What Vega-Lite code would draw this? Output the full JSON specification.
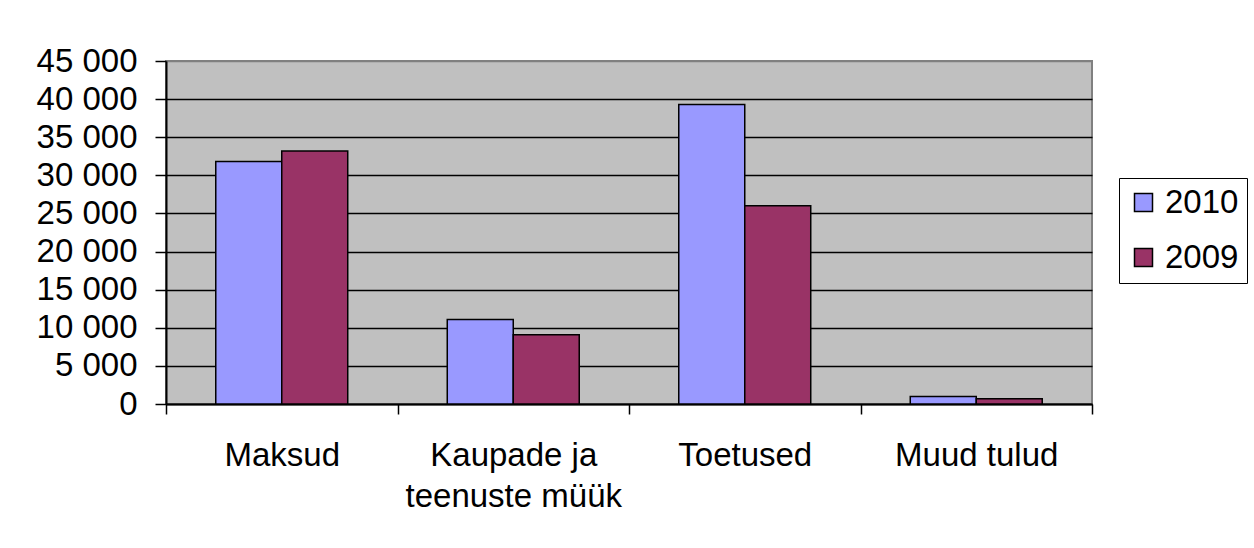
{
  "$schema": "https://vega.github.io/schema/vega-lite/v6.json",
  "autosize": {"type": "none"},
  "padding": {"left": 166, "top": 61, "right": 162, "bottom": 144},
  "width": 926,
  "height": 343,
  "background": "white",
  "data": {
    "values": [
      {"category": "Maksud", "year": "2010", "value": 31800},
      {"category": "Maksud", "year": "2009", "value": 33200},
      {"category": "Kaupade ja teenuste müük", "year": "2010", "value": 11100},
      {"category": "Kaupade ja teenuste müük", "year": "2009", "value": 9100},
      {"category": "Toetused", "year": "2010", "value": 39300},
      {"category": "Toetused", "year": "2009", "value": 26000},
      {"category": "Muud tulud", "year": "2010", "value": 1000},
      {"category": "Muud tulud", "year": "2009", "value": 700}
    ]
  },
  "mark": {"type": "bar", "stroke": "black", "strokeWidth": 1.5},
  "encoding": {
    "x": {
      "field": "category",
      "type": "nominal",
      "sort": ["Maksud", "Kaupade ja teenuste müük", "Toetused", "Muud tulud"],
      "scale": {"paddingInner": 0, "paddingOuter": 0},
      "axis": {
        "title": null,
        "labelAngle": 0,
        "tickBand": "extent",
        "labelFont": "Liberation Sans",
        "labelFontSize": 33,
        "labelColor": "black",
        "labelPadding": 25,
        "labelLineHeight": 41,
        "labelLimit": 500,
        "labelExpr": "datum.value == 'Kaupade ja teenuste müük' ? ['Kaupade ja', 'teenuste müük'] : datum.value",
        "domainColor": "black",
        "domainWidth": 2,
        "tickColor": "black",
        "tickWidth": 1.5,
        "tickSize": 10,
        "grid": false
      }
    },
    "xOffset": {
      "field": "year",
      "type": "nominal",
      "sort": ["2010", "2009"],
      "scale": {"paddingInner": 0, "paddingOuter": 0.754}
    },
    "y": {
      "field": "value",
      "type": "quantitative",
      "scale": {"domain": [0, 45000], "nice": false},
      "axis": {
        "title": null,
        "values": [0, 5000, 10000, 15000, 20000, 25000, 30000, 35000, 40000, 45000],
        "labelExpr": "replace(format(datum.value, ','), ',', ' ')",
        "labelFont": "Liberation Sans",
        "labelFontSize": 33,
        "labelColor": "black",
        "labelPadding": 18,
        "domainColor": "black",
        "domainWidth": 2,
        "tickColor": "black",
        "tickWidth": 1.5,
        "tickSize": 11,
        "grid": true,
        "gridColor": {"expr": "datum.value === 45000 ? '#808080' : 'black'"},
        "gridWidth": 1.5,
        "gridOpacity": 1
      }
    },
    "color": {
      "field": "year",
      "type": "nominal",
      "sort": ["2010", "2009"],
      "scale": {"domain": ["2010", "2009"], "range": ["#9999FF", "#993366"]},
      "legend": {
        "title": null,
        "orient": "none",
        "legendX": 953,
        "legendY": 117,
        "direction": "vertical",
        "strokeColor": "black",
        "fillColor": "white",
        "padding": 8,
        "rowPadding": 21,
        "symbolType": "square",
        "symbolSize": 324,
        "symbolStrokeColor": "black",
        "symbolStrokeWidth": 1.5,
        "symbolOpacity": 1,
        "labelFont": "Liberation Sans",
        "labelFontSize": 33,
        "labelColor": "black",
        "labelOffset": 5
      }
    }
  },
  "config": {
    "view": {"fill": "#C0C0C0", "stroke": "#808080", "strokeWidth": 2}
  }
}
